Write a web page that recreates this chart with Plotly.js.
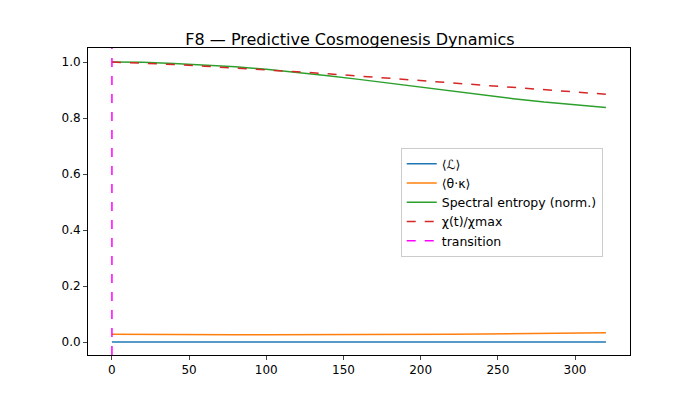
<!DOCTYPE html>
<html>
<head>
<script src="https://cdn.plot.ly/plotly-3.0.1.min.js"></script>
<style>body{margin:0;background:#fff}</style>
</head>
<body>
<div id="plot" style="width:700px;height:400px"></div>
<script>
// x positions (steps)
var steps = [0, 20, 40, 60, 80, 100, 120, 140, 160, 180, 200, 220, 240, 260, 280, 300, 320];
// series
var lagr    = [0, 0, 0, 0, 0, 0, 0, 0, 0, 0, 0, 0, 0, 0, 0, 0, 0];
var thetaK  = [0.028, 0.027, 0.027, 0.026, 0.026, 0.026, 0.026, 0.026, 0.027, 0.027, 0.028, 0.028, 0.029, 0.030, 0.031, 0.032, 0.033];
var entropy = [1.000, 0.999, 0.995, 0.990, 0.983, 0.974, 0.963, 0.951, 0.938, 0.924, 0.910, 0.896, 0.882, 0.869, 0.857, 0.847, 0.838];
var chiNorm = [1.000, 0.996, 0.991, 0.985, 0.979, 0.972, 0.965, 0.958, 0.950, 0.942, 0.934, 0.926, 0.918, 0.910, 0.902, 0.894, 0.885];
var transitionX = 0;

var traces = [
  {x: steps, y: lagr, name: "⟨ℒ⟩", mode: "lines", line: {color: "#1f77b4", width: 1.5}},
  {x: steps, y: thetaK, name: "⟨θ·κ⟩", mode: "lines", line: {color: "#ff7f0e", width: 1.5}},
  {x: steps, y: entropy, name: "Spectral entropy (norm.)", mode: "lines", line: {color: "#2ca02c", width: 1.5}},
  {x: steps, y: chiNorm, name: "χ(t)/χmax", mode: "lines", line: {color: "#d62728", width: 1.5, dash: "dash"}},
  {x: [transitionX, transitionX], y: [-0.046, 1.05], name: "transition", mode: "lines", line: {color: "#ff00ff", width: 1.5, dash: "dash"}}
];

var layout = {
  width: 700, height: 400,
  margin: {l: 88, r: 70, t: 48, b: 45},
  paper_bgcolor: "#fff", plot_bgcolor: "#fff",
  font: {family: "DejaVu Sans", size: 12, color: "#000"},
  title: {text: "F8 — Predictive Cosmogenesis Dynamics", font: {size: 16}, x: 0.5, y: 0.915, xanchor: "center"},
  showlegend: true,
  legend: {x: 0.577, y: 0.674, xanchor: "left", yanchor: "top", bgcolor: "rgba(255,255,255,0.8)",
           bordercolor: "#ccc", borderwidth: 1, font: {size: 12.5}, tracegroupgap: 0},
  xaxis: {range: [-15.5, 335.6], tickvals: [0, 50, 100, 150, 200, 250, 300], showgrid: false, zeroline: false,
          showline: true, mirror: true, linecolor: "#000", ticks: "outside", ticklen: 4},
  yaxis: {range: [-0.046, 1.05], tickvals: [0, 0.2, 0.4, 0.6, 0.8, 1.0], tickformat: ".1f", showgrid: false, zeroline: false,
          showline: true, mirror: true, linecolor: "#000", ticks: "outside", ticklen: 4}
};

Plotly.newPlot("plot", traces, layout, {displayModeBar: false});
</script>
</body>
</html>
